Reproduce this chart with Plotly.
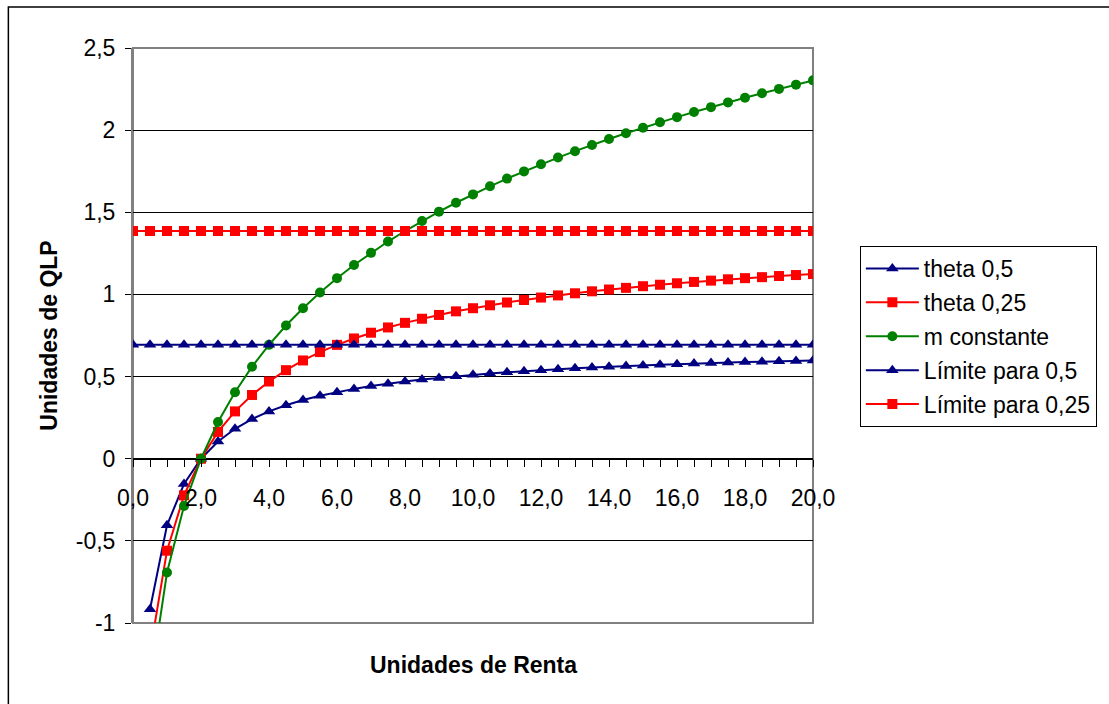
import plotly.graph_objects as go

# ---- data ----
renta = [0.0, 0.5, 1.0, 1.5, 2.0, 2.5, 3.0, 3.5, 4.0, 4.5, 5.0, 5.5, 6.0, 6.5, 7.0, 7.5,
         8.0, 8.5, 9.0, 9.5, 10.0, 10.5, 11.0, 11.5, 12.0, 12.5, 13.0, 13.5, 14.0, 14.5,
         15.0, 15.5, 16.0, 16.5, 17.0, 17.5, 18.0, 18.5, 19.0, 19.5, 20.0]

theta_05 = [None, -0.916, -0.405, -0.154, 0.0, 0.105, 0.182, 0.241, 0.288, 0.325, 0.357,
            0.383, 0.405, 0.425, 0.442, 0.457, 0.470, 0.482, 0.492, 0.502, 0.511, 0.519,
            0.526, 0.533, 0.539, 0.545, 0.550, 0.555, 0.560, 0.564, 0.568, 0.572, 0.575,
            0.579, 0.582, 0.585, 0.588, 0.590, 0.593, 0.595, 0.598]

theta_025 = [None, -1.179, -0.560, -0.223, 0.0, 0.163, 0.288, 0.388, 0.470, 0.539, 0.598,
             0.649, 0.693, 0.732, 0.767, 0.799, 0.827, 0.852, 0.875, 0.897, 0.916, 0.934,
             0.951, 0.966, 0.981, 0.994, 1.007, 1.019, 1.030, 1.040, 1.050, 1.059, 1.068,
             1.076, 1.084, 1.092, 1.099, 1.105, 1.112, 1.118, 1.124]

m_constante = [None, -1.386, -0.693, -0.288, 0.0, 0.223, 0.405, 0.560, 0.693, 0.811, 0.916,
               1.012, 1.099, 1.179, 1.253, 1.322, 1.386, 1.447, 1.504, 1.558, 1.609, 1.658,
               1.705, 1.749, 1.792, 1.833, 1.872, 1.910, 1.946, 1.981, 2.015, 2.048, 2.079,
               2.110, 2.140, 2.169, 2.197, 2.225, 2.251, 2.277, 2.303]

limite_05 = [0.693, 0.693, 0.693, 0.693, 0.693, 0.693, 0.693, 0.693, 0.693, 0.693, 0.693,
             0.693, 0.693, 0.693, 0.693, 0.693, 0.693, 0.693, 0.693, 0.693, 0.693, 0.693,
             0.693, 0.693, 0.693, 0.693, 0.693, 0.693, 0.693, 0.693, 0.693, 0.693, 0.693,
             0.693, 0.693, 0.693, 0.693, 0.693, 0.693, 0.693, 0.693]

limite_025 = [1.386, 1.386, 1.386, 1.386, 1.386, 1.386, 1.386, 1.386, 1.386, 1.386, 1.386,
              1.386, 1.386, 1.386, 1.386, 1.386, 1.386, 1.386, 1.386, 1.386, 1.386, 1.386,
              1.386, 1.386, 1.386, 1.386, 1.386, 1.386, 1.386, 1.386, 1.386, 1.386, 1.386,
              1.386, 1.386, 1.386, 1.386, 1.386, 1.386, 1.386, 1.386]

series_names = ["theta 0,5", "theta 0,25", "m constante", "Límite para 0,5", "Límite para 0,25"]

x_tick_vals = [0, 2, 4, 6, 8, 10, 12, 14, 16, 18, 20]
x_tick_text = ["0,0", "2,0", "4,0", "6,0", "8,0", "10,0", "12,0", "14,0", "16,0", "18,0", "20,0"]
y_tick_vals = [-1, -0.5, 0, 0.5, 1, 1.5, 2, 2.5]
y_tick_text = ["-1", "-0,5", "0", "0,5", "1", "1,5", "2", "2,5"]

x_title = "Unidades de Renta"
y_title = "Unidades de QLP"

# ---- styles ----
FONT = "Liberation Sans, Arial, sans-serif"
NAVY = "#000080"
RED = "#FF0000"
GREEN = "#008000"
FS = 23

styles = [
    dict(color=NAVY, symbol="triangle-up", size=11),
    dict(color=RED, symbol="square", size=10),
    dict(color=GREEN, symbol="circle", size=10),
    dict(color=NAVY, symbol="triangle-up", size=11),
    dict(color=RED, symbol="square", size=10),
]
series = [theta_05, theta_025, m_constante, limite_05, limite_025]

fig = go.Figure()
for i, (name, ys, st) in enumerate(zip(series_names, series, styles)):
    fig.add_trace(go.Scatter(
        x=renta, y=ys, name=name, mode="lines+markers",
        line=dict(color=st["color"], width=2),
        marker=dict(color=st["color"], symbol=st["symbol"], size=st["size"]),
        legendgroup="g%d" % i,
        connectgaps=False,
    ))

L, R, T, B = 133, 294, 48, 81
W, H = 1109, 704
pw = W - L - R
ph = H - T - B

fig.update_layout(
    width=W, height=H,
    margin=dict(l=L, r=R, t=T, b=B),
    paper_bgcolor="white", plot_bgcolor="white",
    font=dict(family=FONT, size=FS, color="black"),
    showlegend=True,
    legend=dict(
        x=(862 - L) / pw, y=(H - B - 246) / ph, xanchor="left", yanchor="top",
        bordercolor="black", borderwidth=1, bgcolor="white",
        font=dict(family=FONT, size=FS, color="black"),
        tracegroupgap=1, itemwidth=53,
    ),
    xaxis=dict(
        range=[0, 20], anchor="free", position=1 / 3.5,
        showgrid=False, zeroline=False,
        showline=True, linecolor="black", linewidth=1,
        ticks="outside", ticklen=7, tickcolor="black", tickwidth=1,
        tickvals=x_tick_vals, ticktext=x_tick_text,
        minor=dict(dtick=0.5, ticks="outside", ticklen=7, tickcolor="black", tickwidth=1),
        ticklabelstandoff=12,
        tickfont=dict(family=FONT, size=FS, color="black"),
    ),
    yaxis=dict(
        range=[-1, 2.5],
        showgrid=True, gridcolor="black", gridwidth=1,
        zeroline=False,
        showline=True, linecolor="#808080", linewidth=2,
        ticks="outside", ticklen=6, tickcolor="black", tickwidth=1,
        tickvals=y_tick_vals, ticktext=y_tick_text,
        ticklabelstandoff=5,
        tickfont=dict(family=FONT, size=FS, color="black"),
        title=dict(text="<b>%s</b>" % y_title, font=dict(family=FONT, size=FS, color="black"), standoff=12),
    ),
    shapes=[
        dict(type="rect", xref="paper", yref="paper", x0=0, x1=1, y0=0, y1=1,
             line=dict(color="#808080", width=2), layer="between"),
        dict(type="rect", xref="paper", yref="paper",
             x0=(8 - L) / pw, x1=(1120 - L) / pw, y0=(H - B - 720) / ph, y1=(H - B - 7) / ph,
             line=dict(color="black", width=1.5), layer="below"),
    ],
    annotations=[
        dict(text="<b>%s</b>" % x_title, xref="paper", yref="paper",
             x=0.5, y=(H - B - 665) / ph, xanchor="center", yanchor="middle",
             showarrow=False, font=dict(family=FONT, size=FS, color="black")),
    ],
)

fig.write_html(
    "out.html",
    config={"displayModeBar": False},
    post_script="document.body.style.margin='0';document.body.style.overflow='hidden';",
)
